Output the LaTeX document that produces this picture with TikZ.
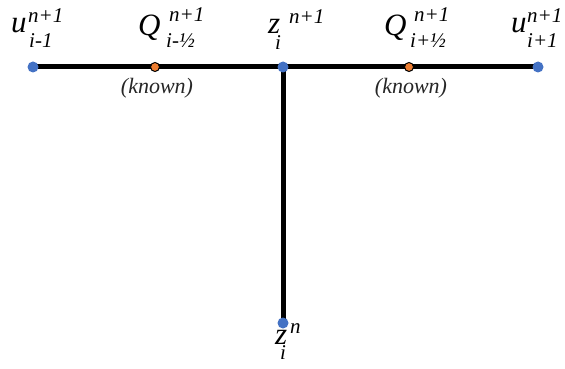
\documentclass[tikz,border=0pt]{standalone}
\usepackage{fontspec}
\setmainfont{Liberation Serif}
\definecolor{dotblue}{HTML}{4472C4}
\definecolor{dotorange}{HTML}{ED7D31}
% #1 main, #2 sup dx, #3 sup raise, #4 sup, #5 sub dx, #6 sub lower, #7 sub
\newcommand\trilabel[7]{%
  \rlap{\fontsize{31}{31}\selectfont #1}%
  \hspace*{#2pt}\rlap{\raisebox{#3pt}{\fontsize{21}{21}\selectfont #4}}%
  \hspace*{-#2pt}\hspace*{#5pt}\raisebox{-#6pt}{\fontsize{21}{21}\selectfont #7}}
\begin{document}
\begin{tikzpicture}[x=1pt,y=-1pt,
  lbl/.style={anchor=base west,inner sep=0pt,font=\itshape},
  knownlbl/.style={anchor=base,inner sep=0pt,font=\fontsize{22}{22}\selectfont\itshape,text=black!85},
  bluedot/.style={circle,fill=dotblue,inner sep=0pt,minimum size=11pt},
  orangedot/.style={circle,fill=dotorange,draw=black,line width=1pt,inner sep=0pt,minimum size=9pt},
  bar/.style={line width=5pt,black}]
\useasboundingbox (0,0) rectangle (565,369);
% points
\coordinate (ul) at (33,67);
\coordinate (ql) at (155,67);
\coordinate (zc) at (283,67);
\coordinate (qr) at (409,67);
\coordinate (ur) at (538,67);
\coordinate (zb) at (283,323);
% bars
\draw[bar] (ul) -- (ur);
\draw[bar] (zc) -- (zb);
% dots
\node[bluedot] (dul) at (ul) {};
\node[bluedot] (dzc) at (zc) {};
\node[bluedot] (dur) at (ur) {};
\node[bluedot] (dzb) at (zb) {};
\node[orangedot] (dql) at (ql) {};
\node[orangedot] (dqr) at (qr) {};
% labels
\node[lbl] (u1) at (11,33)  {\trilabel{u}{17}{10}{n+1}{18}{15}{i-1}};
\node[lbl] (q1) at (138,36) {\trilabel{Q}{31}{14}{n+1}{28}{12}{i-½}};
\node[lbl] (z1) at (268,34) {\trilabel{z}{21}{10}{n+1}{7}{16}{i}};
\node[lbl] (q2) at (384,36) {\trilabel{Q}{30}{14}{n+1}{26}{12}{i+½}};
\node[lbl] (u2) at (511,33) {\trilabel{u}{16}{10}{n+1}{16}{15}{i+1}};
\node[lbl] (z2) at (275,344) {\trilabel{z}{15}{11}{n}{5}{15}{i}};
% known
\node[knownlbl] (k1) at (157,93) {(known)};
\node[knownlbl] (k2) at (411,93) {(known)};
\end{tikzpicture}
\end{document}
